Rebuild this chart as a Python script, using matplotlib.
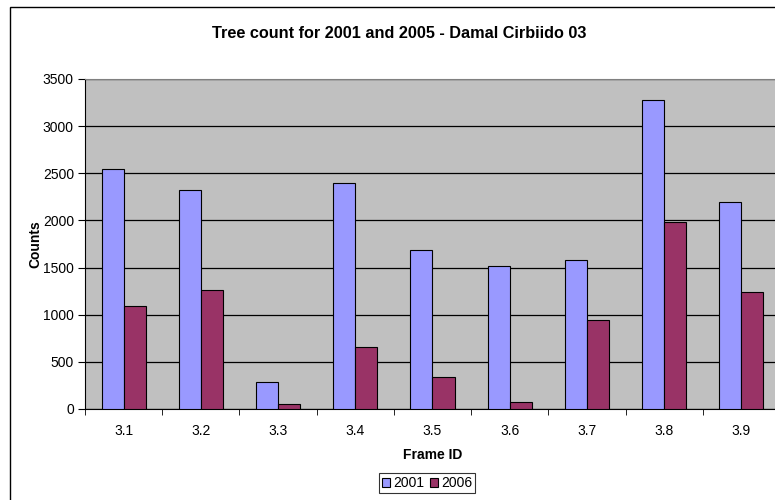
import matplotlib
matplotlib.use("Agg")
import matplotlib.pyplot as plt
import numpy as np
from matplotlib.patches import Rectangle
from matplotlib.ticker import FixedLocator, NullFormatter

categories = ["3.1", "3.2", "3.3", "3.4", "3.5", "3.6", "3.7", "3.8", "3.9"]
values_2001 = [2550, 2320, 285, 2400, 1690, 1520, 1580, 3280, 2200]
values_2006 = [1090, 1260, 50, 660, 340, 70, 940, 1980, 1240]
series_names = ["2001", "2006"]
yticks = [0, 500, 1000, 1500, 2000, 2500, 3000, 3500]

plt.rcParams['font.family'] = ['Liberation Sans', 'DejaVu Sans']

fig = plt.figure(figsize=(7.75, 5.0), dpi=100)
fig.patch.set_facecolor("white")

# outer chart border (extends beyond right/bottom of image)
fig.add_artist(Rectangle((10 / 775, -0.05), 1.0, 1 - 7 / 500 + 0.05,
                         transform=fig.transFigure, fill=False,
                         edgecolor="black", linewidth=1.0))

ax = fig.add_axes([85 / 775, 1 - 409 / 500, 695 / 775, 330 / 500])
ax.set_facecolor("#C0C0C0")

x = np.arange(len(categories))
w = 0.286
ax.bar(x - w / 2, values_2001, width=w, color="#9999FF", edgecolor="black",
       linewidth=0.8, label=series_names[0], zorder=3)
ax.bar(x + w / 2, values_2006, width=w, color="#993366", edgecolor="black",
       linewidth=0.8, label=series_names[1], zorder=3)

ax.set_xlim(-0.5, len(categories) - 0.5)
ax.set_ylim(0, 3500)
ax.set_yticks(yticks)
ax.yaxis.grid(True, color="black", linewidth=0.9, zorder=1)
ax.set_axisbelow(True)

ax.set_xticks(x)
ax.set_xticklabels(categories, fontsize=10)
ax.tick_params(axis="x", which="major", length=0, pad=11)
ax.xaxis.set_minor_locator(FixedLocator(np.arange(-0.5, len(categories), 1.0)))
ax.xaxis.set_minor_formatter(NullFormatter())
ax.tick_params(axis="x", which="minor", length=4, direction="out", color="black")
ax.tick_params(axis="y", length=5, direction="out", labelsize=10, pad=3)

for s in ["top", "right"]:
    ax.spines[s].set_color("#808080")
for s in ["left", "bottom"]:
    ax.spines[s].set_color("black")

ax.set_xlabel("Frame ID", fontsize=10, fontweight="bold", labelpad=7)
ax.set_ylabel("Counts", fontsize=10, fontweight="bold", labelpad=0)

fig.text(399 / 775, 1 - 33 / 500, "Tree count for 2001 and 2005 - Damal Cirbiido 03",
         ha="center", va="center", fontsize=11.7, fontweight="bold")

leg = fig.legend(loc="center", bbox_to_anchor=(427 / 775, 1 - 483 / 500),
                 ncol=2, fontsize=10, frameon=True, fancybox=False,
                 edgecolor="black", handlelength=0.6, handleheight=0.6,
                 handletextpad=0.2, columnspacing=0.4, borderpad=0.25,
                 borderaxespad=0)
leg.get_frame().set_linewidth(0.8)

fig.savefig("out.png", dpi=100)
